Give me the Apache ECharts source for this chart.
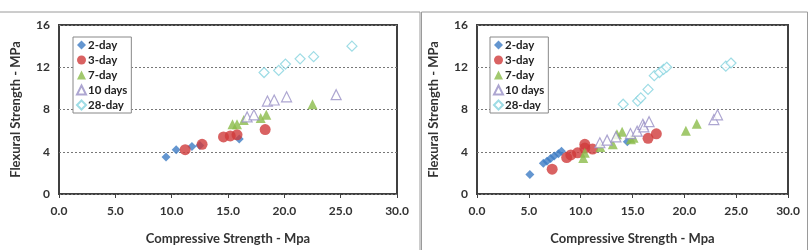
<!DOCTYPE html>
<html style="height: 100%">
   <head>
       <meta charset="utf-8">
   </head>
   <body style="height: 100%; margin: 0; background: #fff">
       <div id="container" style="width: 810px; height: 250px"></div>
       <script type="text/javascript" src="https://cdn.jsdelivr.net/npm/echarts@6/dist/echarts.min.js"></script>
       <script type="text/javascript">
// series names
var ages = ['2-day', '3-day', '7-day', '10 days', '28-day'];

// left panel: [compressive, flexural]
var left2 = [[9.5, 3.5], [10.4, 4.2], [11.8, 4.5], [12.5, 4.6], [16.0, 5.2]];
var left3 = [[11.2, 4.2], [12.7, 4.7], [14.6, 5.4], [15.2, 5.5], [15.8, 5.6], [18.3, 6.1]];
var left7 = [[15.4, 6.6], [15.8, 6.6], [16.4, 7.0], [17.9, 7.2], [18.4, 7.5], [22.5, 8.5]];
var left10 = [[16.7, 7.3], [17.3, 7.5], [18.5, 8.8], [19.1, 8.9], [20.2, 9.2], [24.6, 9.4]];
var left28 = [[18.2, 11.5], [19.5, 11.7], [20.1, 12.3], [21.4, 12.8], [22.6, 13.0], [26.0, 14.0]];

// right panel
var right2 = [[5.1, 1.85], [6.4, 2.9], [6.75, 3.1], [7.1, 3.35], [7.45, 3.6], [7.85, 3.82], [8.15, 4.05], [14.5, 4.95]];
var right3 = [[7.25, 2.35], [8.65, 3.45], [9.05, 3.7], [9.7, 3.9], [10.4, 4.7], [10.4, 4.35], [11.15, 4.25], [16.5, 5.27], [17.3, 5.7]];
var right7 = [[10.25, 3.4], [10.4, 3.9], [11.9, 4.45], [13.1, 4.72], [13.5, 5.65], [14.0, 5.9], [14.85, 5.18], [15.1, 5.33], [20.15, 6.0], [21.2, 6.65]];
var right10 = [[11.85, 4.85], [12.55, 5.1], [13.4, 5.4], [14.8, 5.72], [15.45, 5.95], [16.0, 6.6], [16.1, 6.35], [16.6, 6.85], [22.85, 7.05], [23.2, 7.5]];
var right28 = [[14.1, 8.5], [15.5, 8.8], [15.8, 9.1], [16.5, 9.9], [17.1, 11.2], [17.6, 11.5], [18.0, 11.8], [18.3, 12.0], [24.0, 12.1], [24.5, 12.4]];

var xTicks = [0, 5, 10, 15, 20, 25, 30];
var yTicks = [0, 4, 8, 12, 16];

var styles = [
  { symbol: 'diamond', size: 9, color: '#3d7cc4', empty: false },
  { symbol: 'circle', size: 11, color: '#cf3b3b', empty: false },
  { symbol: 'triangle', size: 10, color: '#8bbb4a', empty: false },
  { symbol: 'triangle', size: 10, color: '#9890c6', empty: true },
  { symbol: 'diamond', size: 10, color: '#86d3de', empty: true }
];

var fontFam = 'Lato, "Open Sans", sans-serif';

function makeSeries(sets, idx) {
  return sets.map(function (d, i) {
    var s = styles[i];
    return {
      name: ages[i],
      type: 'scatter',
      xAxisIndex: idx,
      yAxisIndex: idx,
      data: d,
      symbol: s.symbol,
      symbolSize: s.size,
      itemStyle: s.empty
        ? { color: '#fff', borderColor: s.color, borderWidth: 1.2 }
        : { color: s.color },
      z: 3
    };
  });
}

function xAxis(idx) {
  return {
    gridIndex: idx,
    type: 'value',
    min: xTicks[0],
    max: xTicks[xTicks.length - 1],
    interval: 5,
    name: 'Compressive Strength - Mpa',
    nameLocation: 'middle',
    nameGap: 38,
    nameTextStyle: { fontFamily: fontFam, fontWeight: 'bold', fontSize: 13, color: '#333' },
    axisLine: { show: false },
    axisTick: { show: true, length: 4, lineStyle: { color: '#404040' } },
    axisLabel: {
      fontFamily: fontFam, fontWeight: 'bold', fontSize: 12, color: '#333', margin: 11,
      formatter: function (v) { return v.toFixed(1); }
    },
    splitLine: { show: false }
  };
}

function yAxis(idx) {
  return {
    gridIndex: idx,
    type: 'value',
    min: yTicks[0],
    max: yTicks[yTicks.length - 1],
    interval: 4,
    name: 'Flexural Strength - MPa',
    nameLocation: 'middle',
    nameGap: 37,
    nameTextStyle: { fontFamily: fontFam, fontWeight: 'bold', fontSize: 13, color: '#333' },
    axisLine: { show: false },
    axisTick: { show: false },
    axisLabel: { fontFamily: fontFam, fontWeight: 'bold', fontSize: 12, color: '#333', margin: 9 },
    splitLine: { show: true, lineStyle: { color: '#777', type: [2, 2], width: 1 } }
  };
}

function legend(idx, left, width) {
  return {
    data: ages,
    orient: 'vertical',
    left: left,
    top: 37,
    width: width,
    itemWidth: 9,
    itemHeight: 9,
    itemGap: 3,
    padding: [2, 4, 2, 3],
    borderColor: '#888',
    borderWidth: 1,
    backgroundColor: '#fff',
    selectedMode: false,
    textStyle: { fontFamily: fontFam, fontWeight: 'bold', fontSize: 11.5, lineHeight: 12, color: '#222', padding: [0, 0, 0, -3] }
  };
}

var dom = document.getElementById('container');
var myChart = echarts.init(dom, null, { renderer: 'canvas' });

var option = {
  animation: false,
  backgroundColor: '#fff',
  graphic: [
    { type: 'rect', shape: { x: -3, y: 12, width: 423, height: 250 }, style: { fill: 'none', stroke: '#9a9a9a', lineWidth: 1 }, z: 0 },
    { type: 'rect', shape: { x: 421.5, y: 12, width: 386, height: 250 }, style: { fill: 'none', stroke: '#9a9a9a', lineWidth: 1 }, z: 0 }
  ],
  grid: [
    { left: 59, top: 25, width: 338, height: 169, show: true, borderColor: '#404040', borderWidth: 2, backgroundColor: 'transparent' },
    { left: 477, top: 25, width: 311, height: 169, show: true, borderColor: '#404040', borderWidth: 2, backgroundColor: 'transparent' }
  ],
  legend: [legend(0, 73, 56), legend(1, 490, 52)],
  xAxis: [xAxis(0), xAxis(1)],
  yAxis: [yAxis(0), yAxis(1)],
  series: makeSeries([left2, left3, left7, left10, left28], 0)
    .concat(makeSeries([right2, right3, right7, right10, right28], 1))
};

myChart.setOption(option, true);
</script>
   </body>
</html>
